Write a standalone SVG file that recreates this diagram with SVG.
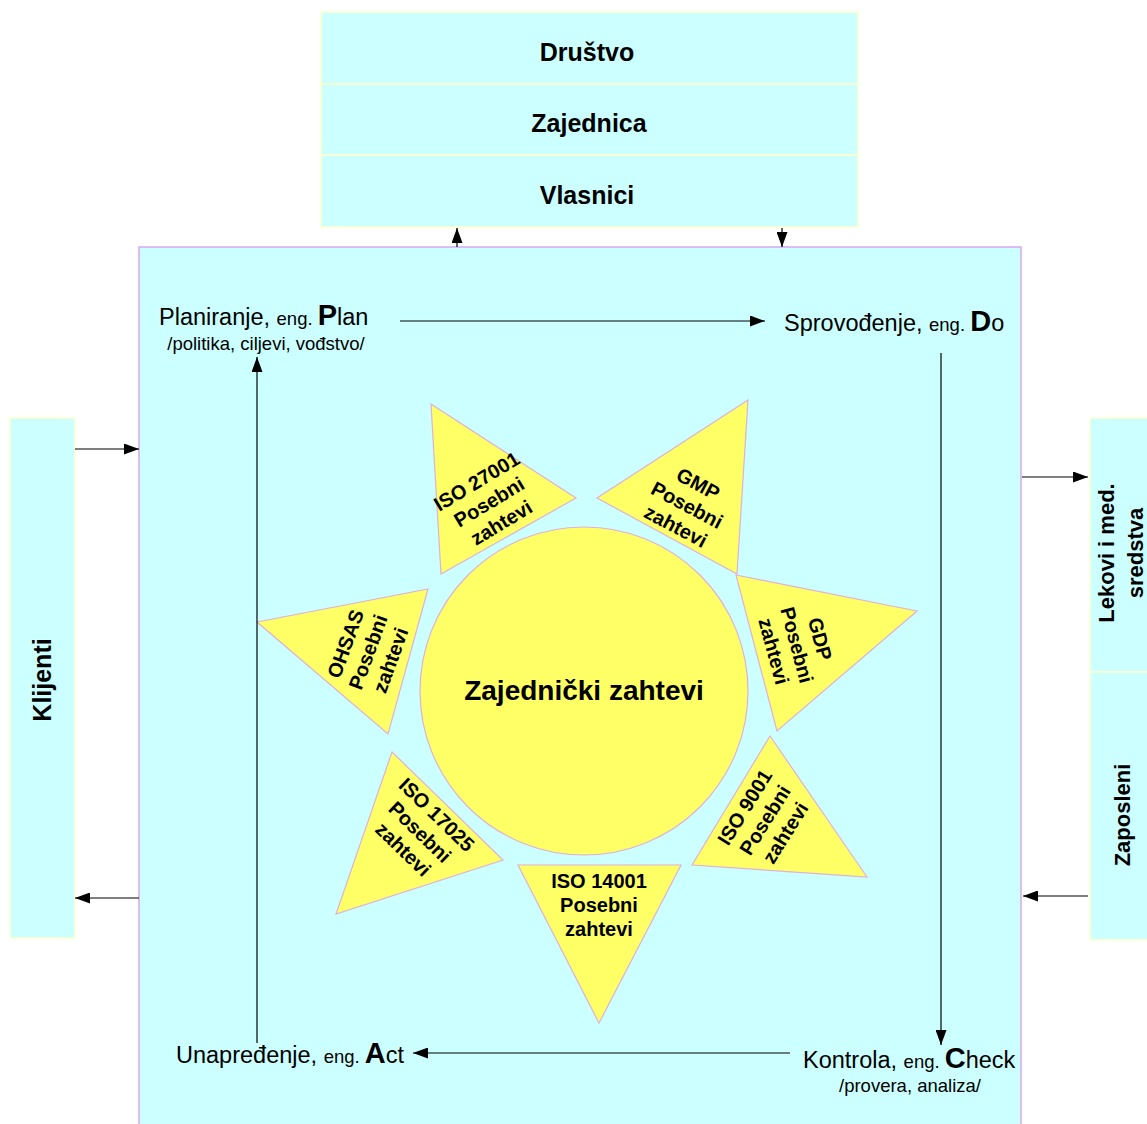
<svg xmlns="http://www.w3.org/2000/svg" width="1147" height="1124" viewBox="0 0 1147 1124">
  <style>
    .box { fill: #CCFFFF; stroke: #FFFFCC; stroke-width: 1.5; }
    .main { fill: #CCFFFF; stroke: #D8A8F0; stroke-width: 1.5; }
    .tri { fill: #FFFF66; stroke: #E0B0D8; stroke-width: 1.2; }
    .sun { fill: #FFFF66; stroke: #E0B0D8; stroke-width: 1.2; }
    .lbl { font-family: "Liberation Sans", Arial, sans-serif; font-weight: bold; fill: #000; text-anchor: middle; }
    .tl { font-family: "Liberation Sans", Arial, sans-serif; font-weight: bold; font-size: 20px; fill: #000; text-anchor: middle; }
    .pd { font-family: "Liberation Sans", Arial, sans-serif; fill: #000; font-size: 23.5px; }
    .sm { font-size: 18.5px; }
    .big { font-size: 29px; font-weight: bold; }
    .sub { font-family: "Liberation Sans", Arial, sans-serif; fill: #000; font-size: 18.5px; text-anchor: middle; }
    .con { stroke: #000; stroke-width: 1.2; fill: none; marker-end: url(#ah); }
  </style>
  <defs>
    <marker id="ah" viewBox="0 0 15 11" refX="15" refY="5.5" markerWidth="15" markerHeight="11" markerUnits="userSpaceOnUse" orient="auto">
      <path d="M0,0 L15,5.5 L0,11 Z" fill="#000"/>
    </marker>
  </defs>

  <!-- stakeholders on top -->
  <g id="drustvo">
    <rect class="box" x="321" y="12" width="537" height="72"/>
    <text class="lbl" x="587" y="61" font-size="25">Društvo</text>
  </g>
  <g id="zajednica">
    <rect class="box" x="321" y="84" width="537" height="71"/>
    <text class="lbl" x="589" y="132" font-size="25">Zajednica</text>
  </g>
  <g id="vlasnici">
    <rect class="box" x="321" y="155" width="537" height="72"/>
    <text class="lbl" x="587" y="204" font-size="25">Vlasnici</text>
  </g>

  <!-- organisation -->
  <g id="organizacija">
    <rect class="main" x="139" y="247" width="882" height="880"/>
  </g>

  <!-- side partners -->
  <g id="klijenti">
    <rect class="box" x="10" y="418" width="65" height="520"/>
    <text class="lbl" font-size="25" transform="translate(51,680) rotate(-90)">Klijenti</text>
  </g>
  <g id="lekovi">
    <rect class="box" x="1090" y="418" width="60" height="254"/>
    <text class="lbl" font-size="22" transform="translate(1114,553) rotate(-90)">Lekovi i med.</text>
    <text class="lbl" font-size="22" transform="translate(1143,553) rotate(-90)">sredstva</text>
  </g>
  <g id="zaposleni">
    <rect class="box" x="1090" y="672" width="60" height="268"/>
    <text class="lbl" font-size="22" transform="translate(1130,815) rotate(-90)">Zaposleni</text>
  </g>

  <!-- PDCA labels -->
  <g id="plan">
    <text class="pd" x="159" y="325">Planiranje, <tspan class="sm">eng. </tspan><tspan class="big">P</tspan>lan</text>
    <text class="sub" x="266" y="350">/politika, ciljevi, vođstvo/</text>
  </g>
  <g id="do">
    <text class="pd" x="784" y="331">Sprovođenje, <tspan class="sm">eng. </tspan><tspan class="big">D</tspan>o</text>
  </g>
  <g id="check">
    <text class="pd" x="803" y="1068">Kontrola, <tspan class="sm">eng. </tspan><tspan class="big">C</tspan>heck</text>
    <text class="sub" x="910" y="1092">/provera, analiza/</text>
  </g>
  <g id="act">
    <text class="pd" x="176" y="1063">Unapređenje, <tspan class="sm">eng. </tspan><tspan class="big">A</tspan>ct</text>
  </g>

  <!-- common requirements and specific standards -->
  <g id="zajednicki">
    <circle class="sun" cx="584" cy="691" r="164"/>
    <text class="lbl" x="584" y="700" font-size="28">Zajednički zahtevi</text>
  </g>
  <g id="iso27001">
    <polygon class="tri" points="431,404 576,498 441,574"/>
    <g transform="translate(489,502) rotate(-31)">
      <text class="tl" y="-17">ISO 27001</text>
      <text class="tl" y="7">Posebni</text>
      <text class="tl" y="31">zahtevi</text>
    </g>
  </g>
  <g id="gmp">
    <polygon class="tri" points="748,400 597,498 737,574"/>
    <g transform="translate(687,505) rotate(28)">
      <text class="tl" y="-17">GMP</text>
      <text class="tl" y="7">Posebni</text>
      <text class="tl" y="31">zahtevi</text>
    </g>
  </g>
  <g id="gdp">
    <polygon class="tri" points="736,575 917,611 777,731"/>
    <g transform="translate(797,645) rotate(75)">
      <text class="tl" y="-17">GDP</text>
      <text class="tl" y="7">Posebni</text>
      <text class="tl" y="31">zahtevi</text>
    </g>
  </g>
  <g id="iso9001">
    <polygon class="tri" points="770,736 867,877 692,865"/>
    <g transform="translate(765,820) rotate(-58)">
      <text class="tl" y="-17">ISO 9001</text>
      <text class="tl" y="7">Posebni</text>
      <text class="tl" y="31">zahtevi</text>
    </g>
  </g>
  <g id="iso14001">
    <polygon class="tri" points="518,865 681,865 599,1023"/>
    <text class="tl" x="599" y="888">ISO 14001</text>
    <text class="tl" x="599" y="912">Posebni</text>
    <text class="tl" x="599" y="936">zahtevi</text>
  </g>
  <g id="iso17025">
    <polygon class="tri" points="392,752 503,860 336,914"/>
    <g transform="translate(420,832) rotate(44)">
      <text class="tl" y="-17">ISO 17025</text>
      <text class="tl" y="7">Posebni</text>
      <text class="tl" y="31">zahtevi</text>
    </g>
  </g>
  <g id="ohsas">
    <polygon class="tri" points="257,622 428,589 388,734"/>
    <g transform="translate(368,652) rotate(-70)">
      <text class="tl" y="-17">OHSAS</text>
      <text class="tl" y="7">Posebni</text>
      <text class="tl" y="31">zahtevi</text>
    </g>
  </g>

  <!-- connectors -->
  <g id="connectors">
    <line class="con" x1="457" y1="247" x2="457" y2="228"/>
    <line class="con" x1="782" y1="228" x2="782" y2="247"/>
    <line class="con" x1="75" y1="449" x2="139" y2="449"/>
    <line class="con" x1="139" y1="898" x2="75" y2="898"/>
    <line class="con" x1="1022" y1="477" x2="1088" y2="477"/>
    <line class="con" x1="1088" y1="896" x2="1023" y2="896"/>
    <line class="con" x1="400" y1="321" x2="765" y2="321"/>
    <line class="con" x1="941" y1="353" x2="941" y2="1045"/>
    <line class="con" x1="790" y1="1053" x2="413" y2="1053"/>
    <line class="con" x1="257" y1="1043" x2="257" y2="357"/>
  </g>
</svg>
